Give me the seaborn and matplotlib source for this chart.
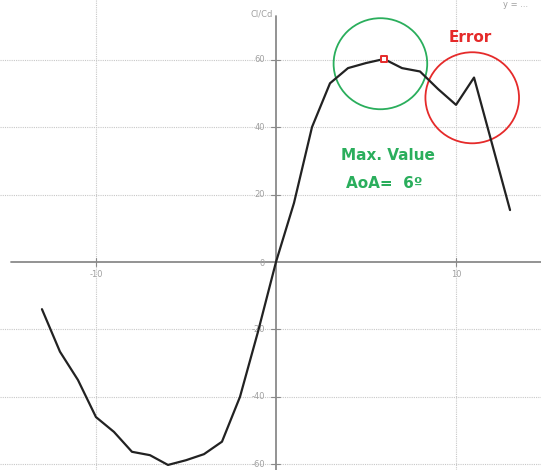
import numpy as np
import pandas as pd
import matplotlib
matplotlib.use("Agg")
import matplotlib.pyplot as plt
from matplotlib.patches import Ellipse
import seaborn as sns

# =====================================
# DATA
# =====================================

aoa = [-13, -12, -11, -10, -9, -8, -7, -6, -5, -4, -3, -2, -1,
       0, 1, 2, 3, 4, 5, 6, 7, 8, 9, 10, 11, 13]
cl_cd = [-14, -26.6, -35, -46, -50.4, -56.3, -57.3, -60.2, -58.8, -57, -53.3, -40, -20.7,
         0, 17.5, 40, 53, 57.5, 59, 60.2, 57.5, 56.5, 51.3, 46.6, 54.7, 15.4]

max_point = (6, 60.2)
max_circle = (5.8, 58.8)
error_circle = (10.9, 48.7)

x_ticks = [-10, 10]
y_ticks = [-60, -40, -20, 20, 40, 60]

df = pd.DataFrame({"AoA": aoa, "ClCd": cl_cd})

sns.set_style("white")
plt.rcParams["font.family"] = ["DejaVu Sans"]

GREEN = "#2aae5c"
RED = "#e52a2a"
AXIS_GRAY = "#8a8a8a"

fig = plt.figure(figsize=(5.41, 4.70), dpi=100)
ax = fig.add_axes([0, 0, 1, 1])

ax.set_xlim(-15.33, 14.72)
ax.set_ylim(-61.7, 77.7)

# grid (dotted)
for xv in x_ticks:
    ax.axvline(xv, color="#c8c8c8", lw=0.8, ls=(0, (1, 1)), zorder=0)
for yv in y_ticks:
    ax.axhline(yv, color="#c8c8c8", lw=0.8, ls=(0, (1, 1)), zorder=0)

# axes through origin
ax.axhline(0, xmin=0.02, xmax=1, color=AXIS_GRAY, lw=1.3, zorder=1)
ax.axvline(0, ymin=0, ymax=0.965, color=AXIS_GRAY, lw=1.3, zorder=1)
for s in ax.spines.values():
    s.set_visible(False)
ax.set_xticks([])
ax.set_yticks([])
ax.set_xlabel("")
ax.set_ylabel("")

# tick labels
for xv in x_ticks:
    ax.plot([xv, xv], [-1.2, 1.2], color=AXIS_GRAY, lw=0.8)
    ax.text(xv, -2.5, f"{xv}", ha="center", va="top", fontsize=6, color="#a0a0a0")
for yv in y_ticks:
    ax.plot([-0.25, 0.25], [yv, yv], color=AXIS_GRAY, lw=0.8)
    ax.text(-0.6, yv, f"{yv}", ha="right", va="center", fontsize=6, color="#a0a0a0")
ax.text(-0.6, -0.5, "0", ha="right", va="center", fontsize=6, color="#a0a0a0")
ax.text(-0.2, 73.5, "Cl/Cd", ha="right", va="center", fontsize=6, color="#a0a0a0")
ax.text(12.6, 76.5, "y = ...", ha="left", va="center", fontsize=6, color="#a0a0a0")

# curve
sns.lineplot(data=df, x="AoA", y="ClCd", ax=ax, color="#222222", lw=1.6,
             sort=False, zorder=3)
ax.set_xlabel("")
ax.set_ylabel("")

# max marker
ax.scatter([max_point[0]], [max_point[1]], marker="s", s=22,
           facecolor="white", edgecolor=RED, linewidth=1.4, zorder=4)

# circles (round in pixels)
ax.add_patch(Ellipse(max_circle, width=5.2, height=27.0, fill=False,
                     edgecolor=GREEN, lw=1.3, zorder=2))
ax.add_patch(Ellipse(error_circle, width=5.2, height=27.0, fill=False,
                     edgecolor=RED, lw=1.3, zorder=2))

ax.text(10.8, 66.5, "Error", ha="center", va="center", fontsize=11,
        fontweight="bold", color=RED)
ax.text(6.2, 31.5, "Max. Value", ha="center", va="center", fontsize=11,
        fontweight="bold", color=GREEN)
ax.text(6.0, 23.3, "AoA=  6º", ha="center", va="center", fontsize=11,
        fontweight="bold", color=GREEN)

fig.savefig("out.png", dpi=100)
